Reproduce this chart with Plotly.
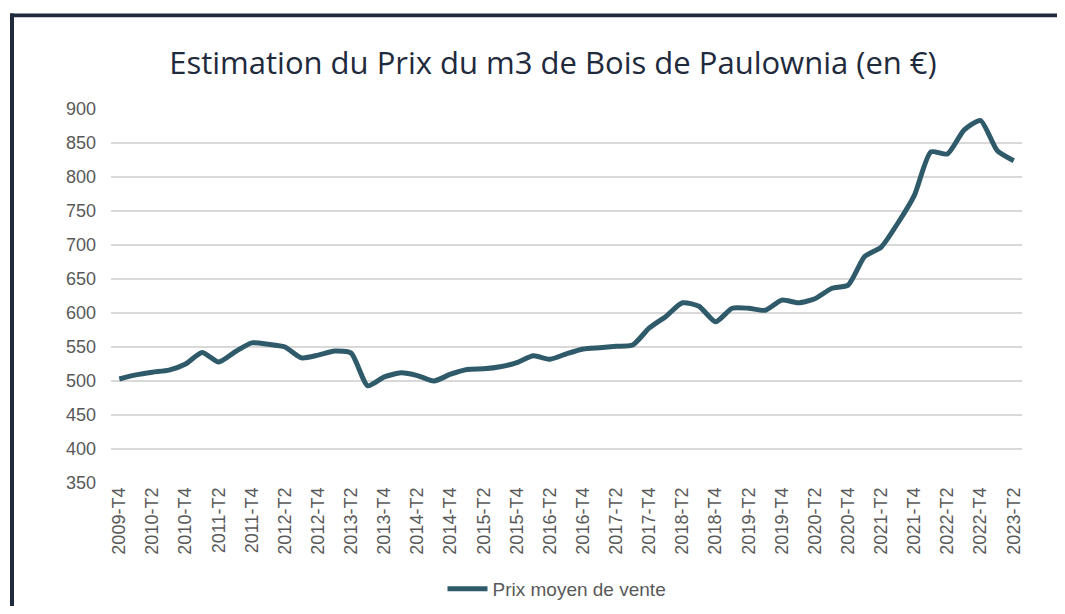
import plotly.graph_objects as go

# Data
quarters = []
for y in range(2009, 2024):
    for q in range(1, 5):
        if (y == 2009 and q < 4) or (y == 2023 and q > 2):
            continue
        quarters.append(f"{y}-T{q}")

prix = [503, 509, 513, 516, 525, 542, 528, 543, 556, 554, 550, 534,
        538, 544, 541, 493, 506, 512, 508, 500, 510, 517, 518, 521,
        527, 537, 532, 540, 547, 549, 551, 553, 578, 595, 615, 610,
        587, 607, 607, 604, 619, 615, 621, 636, 641, 683, 697, 732,
        773, 837, 834, 869, 883, 839, 824]

series_name = "Prix moyen de vente"
title_text = "Estimation du Prix du m3 de Bois de Paulownia (en €)"
y_ticks = list(range(350, 901, 50))

OFF = 8  # page body margin
W, H = 1065 - 2 * OFF, 614 - 2 * OFF
L, R, T, B = 111 - OFF, 1022 - OFF, 108.7 - OFF, 483 - OFF


def px(x):
    return (x - OFF - L) / (R - L)


def py(y):
    return (B - (y - OFF)) / (B - T)


xs = list(range(len(quarters)))
fig = go.Figure()
fig.add_trace(go.Scatter(
    x=xs, y=prix, mode="lines", name=series_name,
    line=dict(color="#2f5a6a", width=5, shape="spline", smoothing=0.6),
))

tick_idx = xs[::2]
tfont = dict(family="Liberation Sans, Arial", size=18, color="#595959")
fig.update_layout(
    width=W, height=H,
    margin=dict(l=L, r=W - R, t=T, b=H - B, autoexpand=False),
    paper_bgcolor="white", plot_bgcolor="white",
    title=dict(text=title_text, x=px(553), xanchor="center", xref="paper",
               y=1 - (63 - OFF) / H, yanchor="middle",
               font=dict(family="Open Sans, sans-serif", size=31, color="#1f2a3c")),
    xaxis=dict(range=[-0.5, len(quarters) - 0.5], tickmode="array", tickvals=tick_idx,
               ticktext=[quarters[i] for i in tick_idx], tickangle=-90,
               showgrid=False, zeroline=False, showline=False, ticks="",
               tickfont=tfont, automargin=False),
    yaxis=dict(range=[350, 900], tickmode="array", tickvals=y_ticks,
               showgrid=True, gridcolor="#d9d9d9", gridwidth=1.5, zeroline=False,
               showline=False, ticks="", ticklabelstandoff=14,
               tickfont=tfont, automargin=False),
    showlegend=True,
    legend=dict(orientation="h", x=px(557), xanchor="center", y=py(589), yanchor="middle",
                font=dict(family="Liberation Sans, Arial", size=19, color="#595959"),
                itemwidth=40),
)

# frame border (top and left)
fig.add_shape(type="rect", xref="paper", yref="paper",
              x0=px(10), x1=px(1080), y0=py(17), y1=py(13),
              fillcolor="#1f2a3c", line=dict(width=0), layer="above")
fig.add_shape(type="rect", xref="paper", yref="paper",
              x0=px(10), x1=px(14), y0=py(630), y1=py(13),
              fillcolor="#1f2a3c", line=dict(width=0), layer="above")

fig.write_html("out.html")
